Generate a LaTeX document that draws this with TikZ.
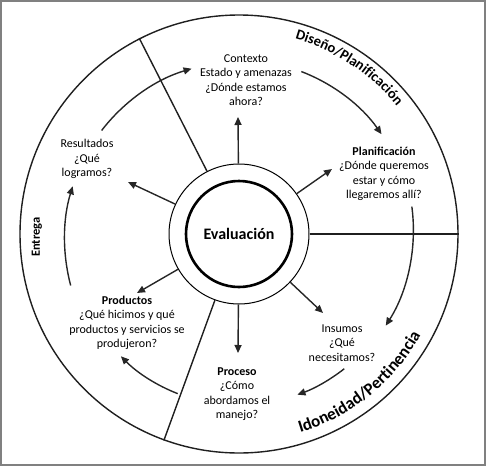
\documentclass[tikz,border=0pt]{standalone}
\usepackage{fontspec}
\setmainfont{Carlito}
\usepackage{tikz}
\usetikzlibrary{calc}
\usetikzlibrary{arrows.meta}
\usetikzlibrary{decorations.text}

\begin{document}
\begin{tikzpicture}[x=1pt,y=1pt,>={Triangle[length=8pt,width=7pt]}]
		\tikzset{etiq/.style={align=center,inner sep=0pt,font=\fontsize{12}{14.5}\selectfont}}
		\tikzset{linea/.style={line width=1.4pt,black!88}}
		\tikzset{flecha/.style={->,line width=1.4pt,black!85}}
		\tikzset{giro/.style={->,line width=1.4pt,black!85,looseness=0.87}}
		\useasboundingbox (-239,-232) rectangle (247,234);
		\draw[gray,line width=2.5pt] (-237.75,-230.75) rectangle (245.75,232.75);

		\node (ext) at (0,0) [draw,circle,linea,minimum size=438pt,inner sep=0pt] {};
		\node (anillo) at (0,0) [draw,circle,line width=1pt,minimum size=140pt,inner sep=0pt] {};
		\node (centro) at (0,0) [draw,circle,line width=2.6pt,minimum size=106pt,inner sep=0pt,font=\fontsize{16}{19}\selectfont\bfseries] {Evaluación};

		\node (1) at (7,154) [etiq] {Contexto\\Estado y amenazas\\¿Dónde estamos\\ahora?};
		\node (2) at (145,60) [etiq] {\textbf{Planificación}\\¿Dónde queremos\\estar y cómo\\llegaremos allí?};
		\node (3) at (103,-109) [etiq] {Insumos\\¿Qué\\necesitamos?};
		\node (4) at (-2,-160) [etiq] {\textbf{Proceso}\\¿Cómo\\abordamos el\\manejo?};
		\node (5) at (-112,-89) [etiq] {\textbf{Productos}\\¿Qué hicimos y qué\\productos y servicios se\\produjeron?};
		\node (6) at (-152,75) [etiq] {Resultados\\¿Qué\\logramos?};
		\node (7) at (-202,-3) [rotate=90,font=\fontsize{12.5}{15}\selectfont\bfseries] {Entrega};

		%Sectores
		\draw[linea] (anillo.117) -- (ext.117);
		\draw[linea] (anillo.0) -- (ext.0);
		\draw[linea] (anillo.-110) -- (ext.-110);

		\path[decorate,decoration={text along path,text align=center,
			text={|\fontsize{14.5}{17}\selectfont\bfseries|Diseño/Planificación}}] (80:203) arc (80:33:203);
		\path[decorate,decoration={text along path,text align=center,
			text={|\fontsize{17}{20}\selectfont\bfseries|Idoneidad/Pertinencia}}] (-82:208) arc (-82:-20:208);

		\coordinate (r1) at (-1,117);
		\coordinate (r2) at (93,65);
		\coordinate (r3) at (84,-79);
		\coordinate (r4) at (-1,-119);
		\coordinate (r5) at (-102,-59);
		\coordinate (r6) at (-111,52);

		%Flechas
		\draw[flecha] (anillo) -- (r1);
		\draw[flecha] (anillo) -- (r2);
		\draw[flecha] (anillo) -- (r3);
		\draw[flecha] (anillo) -- (r4);
		\draw[flecha] (anillo) -- (r5);
		\draw[flecha] (anillo) -- (r6);

		\coordinate (g1_ini) at (143:172);
		\coordinate (g1_fin) at (106:172);
		\coordinate (g2_ini) at (69:174);
		\coordinate (g2_fin) at (35:174);
		\coordinate (g3_ini) at (9:175);
		\coordinate (g3_fin) at (-32:173);
		\coordinate (g4_ini) at (-52:171);
		\coordinate (g4_fin) at (-70:171);
		\coordinate (g5_ini) at (-111:171);
		\coordinate (g5_fin) at (-134:170);
		\coordinate (g6_ini) at (197:176);
		\coordinate (g6_fin) at (164:173);

		%Ciclo
		\draw[giro,bend left=18] (g1_ini) to (g1_fin);
		\draw[giro,bend left=17] (g2_ini) to (g2_fin);
		\draw[giro,bend left=20] (g3_ini) to (g3_fin);
		\draw[giro,bend left=9] (g4_ini) to (g4_fin);
		\draw[giro,bend left=12] (g5_ini) to (g5_fin);
		\draw[giro,bend left=16] (g6_ini) to (g6_fin);
	\end{tikzpicture}
\end{document}
